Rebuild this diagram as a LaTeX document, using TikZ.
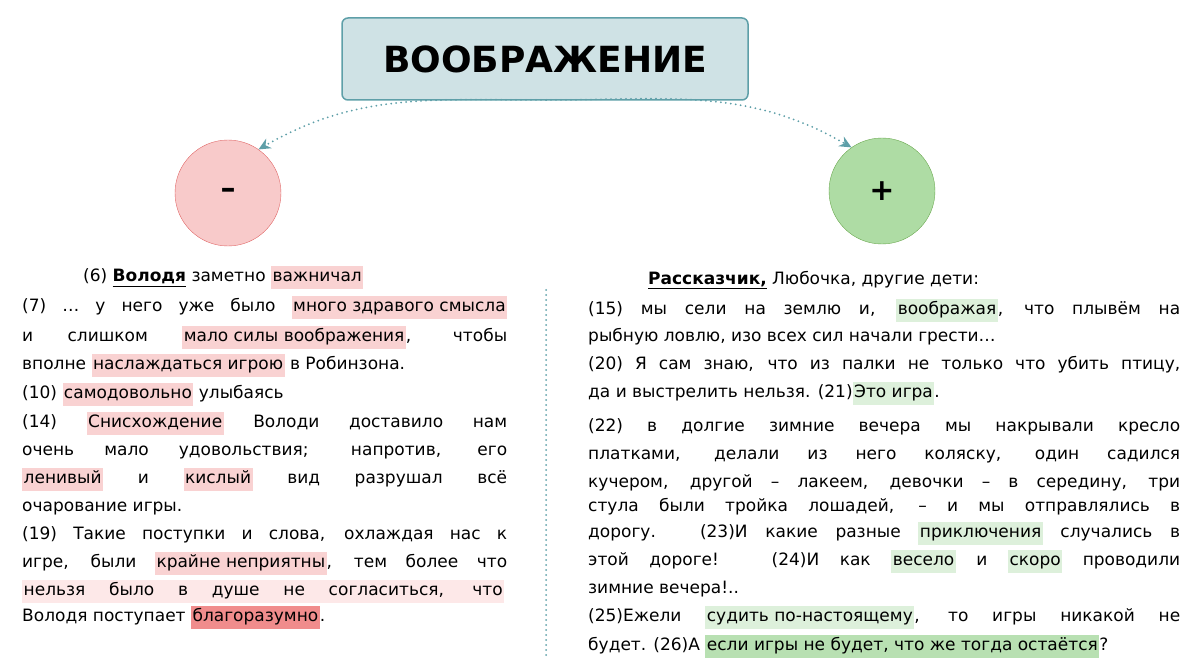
\documentclass[tikz,border=0pt]{standalone}
\usepackage{fontspec}
\setmainfont{DejaVu Sans}
\usetikzlibrary{arrows.meta}
\definecolor{hr}{HTML}{F9D2D2}
\definecolor{hrl}{HTML}{FDE8E8}
\definecolor{hrs}{HTML}{F08C8C}
\definecolor{hg}{HTML}{DDF0DB}
\definecolor{hgs}{HTML}{B8E0B2}
\definecolor{teal}{HTML}{5E9FA8}
\newcommand\hl[2]{{\setlength\fboxsep{1.5pt}\colorbox{#1}{\strut #2}}}
\newcommand\jl[2]{\makebox[#1][s]{#2}}
\begin{document}
\begin{tikzpicture}[x=1pt,y=-1pt,
  ln/.style={anchor=base west,inner sep=0pt,font=\fontsize{17}{20}\selectfont},
  arr/.style={teal,line width=2pt,line cap=round,dash pattern=on 0pt off 5pt,-{Stealth[length=12pt,width=11pt,line cap=butt]}}]
\useasboundingbox (0,0) rectangle (1200,671);
\node[draw=teal,line width=1.5pt,fill=teal!30,rounded corners=6pt,minimum width=406pt,minimum height=82pt,font=\fontsize{36}{44}\selectfont\bfseries] (title) at (545,59) {ВООБРАЖЕНИЕ};
\node[circle,draw={rgb,255:red,224;green,102;blue,102},fill={rgb,255:red,248;green,202;blue,202},minimum size=106pt,font=\fontsize{30}{30}\selectfont\bfseries] (minus) at (228,193) {–};
\node[circle,draw={rgb,255:red,106;green,168;blue,79},fill={rgb,255:red,174;green,220;blue,164},minimum size=106pt,font=\fontsize{30}{30}\selectfont\bfseries] (plus) at (882,191) {+};
\coordinate (src) at (546,100);
\draw[arr] (src) to[out=180,in=30] (minus.55);
\draw[arr] (src) to[out=0,in=150] (plus.125);
\coordinate (d1) at (546,290); \coordinate (d2) at (546,655);
\draw[teal,line width=2pt,line cap=round,dash pattern=on 0pt off 5pt] (d1) -- (d2);
% left column
\node[ln] (a1) at (83,282) {(6) \textbf{\underline{Володя}} заметно \hl{hr}{важничал}};
\node[ln] (a2) at (22,312) {\jl{485pt}{(7) … у него уже было \hl{hr}{много здравого смысла}}};
\node[ln] (a3) at (22,341) {\jl{485pt}{и слишком \hl{hr}{мало силы воображения}, чтобы}};
\node[ln] (a4) at (22,369) {вполне \hl{hr}{наслаждаться игрою} в Робинзона.};
\node[ln] (a5) at (22,398) {(10) \hl{hr}{самодовольно} улыбаясь};
\node[ln] (a6) at (22,427) {\jl{485pt}{(14) \hl{hr}{Снисхождение} Володи доставило нам}};
\node[ln] (a7) at (22,455) {\jl{485pt}{очень мало удовольствия; напротив, его}};
\node[ln] (a8) at (22,483) {\jl{485pt}{\hl{hr}{ленивый} и \hl{hr}{кислый} вид разрушал всё}};
\node[ln] (a9) at (22,511) {очарование игры.};
\node[ln] (a10) at (22,539) {\jl{485pt}{(19) Такие поступки и слова, охлаждая нас к}};
\node[ln] (a11) at (22,567) {\jl{485pt}{игре, были \hl{hr}{крайне неприятны}, тем более что}};
\node[ln] (a12) at (22,595) {\hl{hrl}{\jl{479pt}{нельзя было в душе не согласиться, что}}};
\node[ln] (a13) at (22,621) {Володя поступает \hl{hrs}{благоразумно}.};
% right column
\node[ln] (b1) at (648,284) {\textbf{\underline{Рассказчик,}} Любочка, другие дети:};
\node[ln] (b2) at (588,314) {\jl{592pt}{(15) мы сели на землю и, \hl{hg}{воображая}, что плывём на}};
\node[ln] (b3) at (588,341) {рыбную ловлю, изо всех сил начали грести…};
\node[ln] (b4) at (588,369) {\jl{592pt}{(20) Я сам знаю, что из палки не только что убить птицу,}};
\node[ln] (b5) at (588,397) {да и выстрелить нельзя. (21)\hl{hg}{Это игра}.};
\node[ln] (b6) at (588,431) {\jl{592pt}{(22) в долгие зимние вечера мы накрывали кресло}};
\node[ln] (b7) at (588,459) {\jl{592pt}{платками, делали из него коляску, один садился}};
\node[ln] (b8) at (588,487) {\jl{592pt}{кучером, другой – лакеем, девочки – в середину, три}};
\node[ln] (b9) at (588,511) {\jl{592pt}{стула были тройка лошадей, – и мы отправлялись в}};
\node[ln] (b10) at (588,537) {\jl{592pt}{дорогу. (23)И какие разные \hl{hg}{приключения} случались в}};
\node[ln] (b11) at (588,565) {\jl{592pt}{этой дороге! (24)И как \hl{hg}{весело} и \hl{hg}{скоро} проводили}};
\node[ln] (b12) at (588,593) {зимние вечера!..};
\node[ln] (b13) at (588,621) {\jl{592pt}{(25)Ежели \hl{hg}{судить по-настоящему}, то игры никакой не}};
\node[ln] (b14) at (588,650) {будет. (26)А \hl{hgs}{если игры не будет, что же тогда остаётся}?};
\end{tikzpicture}
\end{document}
